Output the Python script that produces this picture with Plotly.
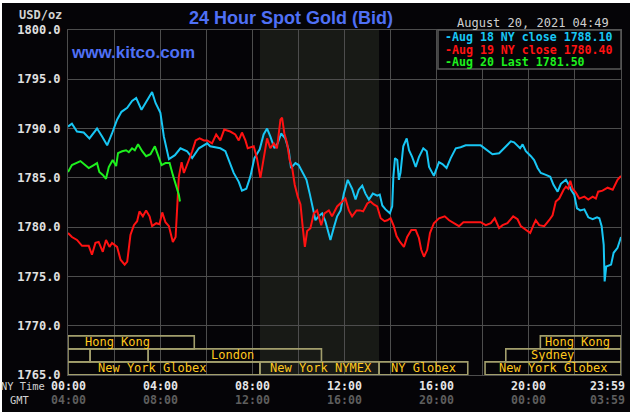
import plotly.graph_objects as go

# ---------------- data ----------------
cyan_h = [0.0,0.17,0.39,0.68,0.93,1.26,1.48,1.70,1.91,2.13,2.32,2.57,2.78,2.96,3.19,3.43,3.65,3.80,4.01,4.16,
          4.38,4.64,4.88,5.17,5.39,5.68,6.04,6.17,6.61,6.83,7.04,7.19,7.41,7.55,7.74,7.91,8.09,8.32,8.49,8.64,
          8.78,8.96,9.10,9.25,9.43,9.58,9.68,9.87,10.01,10.16,10.35,10.49,10.64,10.74,10.88,11.03,11.17,11.29,11.39,11.53,
          11.68,11.83,11.97,12.14,12.33,12.48,12.62,12.77,12.91,13.06,13.23,13.42,13.53,13.64,13.78,13.97,14.07,14.12,14.19,14.29,
          14.36,14.43,14.55,14.70,14.80,14.94,15.09,15.23,15.42,15.57,15.67,15.88,16.10,16.25,16.43,16.61,16.83,17.04,17.26,17.91,
          18.13,18.42,18.71,18.93,19.22,19.36,19.51,19.62,19.73,19.87,20.09,20.23,20.38,20.52,20.74,20.93,21.07,21.25,21.39,21.61,
          21.71,21.83,21.97,22.09,22.23,22.41,22.58,22.77,22.96,23.06,23.16,23.25,23.29,23.36,23.57,23.68,23.85,24.0]
cyan_p = [1790.2,1790.5,1789.7,1789.6,1789.0,1790.0,1789.2,1788.3,1789.5,1790.9,1791.7,1792.1,1792.8,1793.1,1791.9,1792.9,1793.7,1792.6,1791.6,1789.2,
          1786.9,1787.3,1788.0,1787.7,1787.0,1788.0,1788.5,1788.2,1788.0,1787.7,1786.5,1785.5,1784.6,1783.7,1783.9,1785.1,1787.0,1787.9,1789.4,1790.0,
          1789.2,1788.0,1788.5,1789.5,1789.0,1787.8,1786.0,1786.5,1786.3,1785.6,1784.8,1783.4,1781.7,1780.7,1781.1,1781.4,1780.6,1779.4,1778.7,1779.9,
          1781.1,1781.7,1783.4,1784.8,1783.9,1782.8,1783.8,1784.2,1783.4,1782.8,1783.4,1783.2,1783.3,1782.2,1781.8,1781.4,1782.1,1785.1,1787.0,1786.8,
          1784.8,1785.5,1788.2,1789.0,1787.8,1787.1,1786.1,1787.1,1788.0,1787.7,1786.1,1785.2,1786.6,1786.4,1786.0,1787.0,1788.0,1788.1,1788.3,1788.3,
          1787.9,1787.4,1787.5,1788.0,1788.7,1788.6,1788.2,1788.0,1788.4,1787.7,1787.2,1786.8,1786.0,1785.5,1785.3,1785.1,1784.3,1783.6,1784.4,1784.8,
          1784.4,1783.8,1783.3,1781.9,1781.7,1781.8,1781.0,1780.8,1781.0,1780.9,1780.1,1778.2,1774.5,1776.0,1776.2,1777.4,1777.9,1779.0]

red_h = [0.0,0.17,0.39,0.61,0.90,1.04,1.19,1.33,1.51,1.65,1.80,1.91,2.13,2.28,2.46,2.57,2.71,2.86,3.00,3.10,
         3.25,3.39,3.54,3.65,3.83,3.97,4.09,4.23,4.38,4.55,4.67,4.74,4.81,4.93,5.03,5.13,5.25,5.39,5.54,5.71,
         5.90,6.04,6.25,6.43,6.61,6.78,7.04,7.26,7.41,7.55,7.70,7.80,8.06,8.20,8.35,8.49,8.64,8.78,8.93,9.07,
         9.22,9.29,9.39,9.51,9.62,9.73,9.84,9.97,10.09,10.20,10.28,10.38,10.52,10.67,10.81,10.99,11.13,11.32,11.46,11.68,
         11.83,12.04,12.19,12.33,12.52,12.67,12.81,12.99,13.13,13.27,13.42,13.57,13.74,13.86,14.0,14.14,14.26,14.41,14.58,14.72,
         14.90,15.09,15.23,15.33,15.45,15.59,15.71,15.88,16.10,16.35,16.54,16.75,16.97,17.16,17.91,18.13,18.35,18.52,18.71,18.86,
         19.07,19.32,19.51,19.65,19.87,20.06,20.20,20.30,20.45,20.67,20.88,21.03,21.17,21.32,21.51,21.61,21.71,21.80,21.90,22.04,
         22.19,22.41,22.58,22.77,22.91,23.01,23.20,23.42,23.64,23.85,24.0]
red_p = [1779.4,1779.0,1778.7,1778.1,1778.1,1777.2,1778.4,1778.5,1777.5,1778.7,1778.0,1778.4,1778.0,1776.7,1776.2,1776.5,1779.2,1780.2,1780.6,1781.6,
         1781.1,1781.7,1781.1,1780.1,1780.4,1780.3,1781.5,1780.5,1780.1,1778.5,1779.0,1781.7,1785.1,1786.6,1785.5,1786.1,1786.8,1787.7,1788.8,1789.0,
         1788.8,1788.8,1788.5,1789.4,1788.8,1789.9,1789.7,1789.4,1788.8,1789.6,1788.8,1788.0,1788.2,1787.0,1785.0,1786.8,1789.0,1788.0,1788.5,1788.0,
         1790.9,1791.1,1789.5,1788.5,1786.8,1786.0,1784.3,1783.1,1782.3,1779.7,1778.0,1779.6,1779.9,1781.4,1781.7,1780.2,1781.4,1781.7,1781.1,1782.1,
         1782.4,1782.9,1781.7,1781.1,1781.7,1781.7,1781.6,1782.4,1782.6,1782.3,1782.1,1780.9,1780.6,1780.7,1780.9,1780.1,1779.1,1778.5,1778.0,1779.0,
         1779.7,1779.7,1778.9,1777.7,1777.0,1777.7,1779.4,1780.4,1780.9,1781.1,1780.7,1780.4,1780.1,1780.5,1780.5,1780.2,1780.4,1780.9,1779.9,1780.2,
         1780.4,1781.1,1780.8,1780.1,1779.7,1779.4,1780.2,1780.7,1780.2,1780.1,1780.7,1781.2,1782.6,1782.9,1783.8,1784.1,1783.9,1784.7,1783.9,1783.5,
         1782.9,1783.1,1782.8,1783.1,1782.9,1783.6,1783.7,1784.0,1783.8,1784.8,1785.2]

green_h = [0.0,0.17,0.54,0.75,0.90,1.12,1.26,1.36,1.51,1.65,1.77,1.94,2.09,2.17,2.35,2.52,2.64,2.78,2.90,3.04,
           3.22,3.39,3.58,3.77,3.91,4.06,4.23,4.41,4.55,4.70,4.81,4.86]
green_p = [1785.6,1786.3,1786.7,1786.3,1786.0,1786.3,1786.5,1785.6,1785.3,1784.9,1786.1,1786.8,1786.2,1787.5,1787.7,1787.8,1787.6,1788.0,1787.8,1788.4,
           1787.7,1787.2,1787.4,1788.2,1787.2,1786.3,1786.5,1786.5,1785.3,1784.1,1783.3,1782.6]

assert len(cyan_h) == len(cyan_p) and len(red_h) == len(red_p) and len(green_h) == len(green_p)

legend_labels = ["-Aug 18 NY close 1788.10", "-Aug 19 NY close 1780.40", "-Aug 20 Last 1781.50"]

y_ticks = [1765, 1770, 1775, 1780, 1785, 1790, 1795, 1800]
ny_hours = [0, 4, 8, 12, 16, 20, 24]
ny_labels = ["00:00", "04:00", "08:00", "12:00", "16:00", "20:00", "23:59"]
gmt_labels = ["04:00", "08:00", "12:00", "16:00", "20:00", "00:00", "03:59"]

# trading sessions: name, row (1 top .. 3 bottom), start hour, end hour, label hour
sess_names = ["Hong Kong", "", "", "London", "New York Globex", "New York NYMEX", "NY Globex",
              "Hong Kong", "Sydney", "New York Globex"]
sess_rows = [1, 2, 2, 2, 3, 3, 3, 1, 2, 3]
sess_start = [0.0, 0.0, 0.96, 3.48, 0.0, 8.33, 13.5, 20.5, 19.0, 18.1]
sess_end = [5.48, 0.96, 3.48, 11.0, 8.33, 13.5, 17.35, 24.0, 24.0, 24.0]
sess_label_h = [2.13, None, None, 7.13, 3.65, 10.96, 15.43, 22.13, 21.04, 21.04]
nymex_open, nymex_close = 8.33, 13.5

# ---------------- style ----------------
W, H = 633, 417
L, R, T, B = 68, 12, 30, 42
PW, PH = W - L - R, H - T - B
BG = "#050407"
GRID = "#4d4d4d"
MONO = "DejaVu Sans Mono"
CYAN, RED, GREEN = "#18c6f4", "#ff1212", "#1ef01e"
BLUE = "#4f70f5"
GOLD = "#ffc81e"
BOXLINE = "#a29e6c"

def px2x(p):
    return (p - L) / PW

def px2y(p):
    return (H - B - p) / PH

row_top = {1: 1768.97, 2: 1767.65, 3: 1766.33}
row_h = 1.32

fig = go.Figure()
for h, p, c in [(cyan_h, cyan_p, CYAN), (red_h, red_p, RED), (green_h, green_p, GREEN)]:
    fig.add_trace(go.Scatter(x=h, y=p, mode="lines", line=dict(color=c, width=2),
                             hoverinfo="skip", showlegend=False))

shapes = []
# black frame on white page
shapes.append(dict(type="rect", xref="paper", yref="paper", x0=px2x(2), x1=px2x(630),
                   y0=px2y(412), y1=px2y(3), fillcolor=BG, line=dict(width=0), layer="below"))
# NYMEX shaded period
shapes.append(dict(type="rect", xref="x", yref="y", x0=nymex_open, x1=nymex_close,
                   y0=1765, y1=1800, fillcolor="#181a16", line=dict(width=0), layer="below"))
annotations = []
for name, row, s, e, lh in zip(sess_names, sess_rows, sess_start, sess_end, sess_label_h):
    top = row_top[row]
    shapes.append(dict(type="rect", xref="x", yref="y", x0=s, x1=e, y0=top - row_h, y1=top,
                       line=dict(color=BOXLINE, width=1.6), fillcolor="rgba(0,0,0,0)", layer="above"))
    if name:
        annotations.append(dict(x=lh, y=top - row_h / 2, xref="x", yref="y", text=name,
                                showarrow=False, font=dict(family=MONO, size=12, color=GOLD),
                                xanchor="center", yanchor="middle", borderpad=0))

# legend box
shapes.append(dict(type="rect", xref="paper", yref="paper", x0=px2x(438), x1=1.0,
                   y0=px2y(69), y1=1.0, fillcolor=BG, line=dict(color="#5a5a5a", width=1.5),
                   layer="above"))
for i, (lab, c) in enumerate(zip(legend_labels, [CYAN, RED, GREEN])):
    annotations.append(dict(x=px2x(444), y=px2y(37 + 12.6 * i), xref="paper", yref="paper",
                            text=lab, showarrow=False, xanchor="left", yanchor="middle",
                            borderpad=0,
                            font=dict(family=MONO, size=11.6, color=c, weight="bold")))

# x labels
for hh, a, g in zip(ny_hours, ny_labels, gmt_labels):
    xa = "right" if hh == 24 else "center"
    xs = 5 if hh == 24 else 0
    annotations.append(dict(x=hh, y=px2y(386), xref="x", yref="paper", text=a, showarrow=False,
                            xanchor=xa, xshift=xs, yanchor="middle", borderpad=0,
                            font=dict(family=MONO, size=11.6, color="#e6e6e6", weight="bold")))
    annotations.append(dict(x=hh, y=px2y(400), xref="x", yref="paper", text=g, showarrow=False,
                            xanchor=xa, xshift=xs, yanchor="middle", borderpad=0,
                            font=dict(family=MONO, size=11.6, color="#5e5e5e", weight="bold")))
annotations.append(dict(x=px2x(46), y=px2y(386), xref="paper", yref="paper", text="NY Time",
                        showarrow=False, xanchor="right", yanchor="middle", borderpad=0,
                        font=dict(family=MONO, size=10.4, color="#d2d2d2")))
annotations.append(dict(x=px2x(31), y=px2y(400), xref="paper", yref="paper", text="GMT",
                        showarrow=False, xanchor="right", yanchor="middle", borderpad=0,
                        font=dict(family=MONO, size=10.4, color="#d2d2d2")))
annotations.append(dict(x=px2x(64), y=px2y(15), xref="paper", yref="paper", text="USD/oz",
                        showarrow=False, xanchor="right", yanchor="middle",
                        font=dict(family=MONO, size=12, color="#d2d2d2", weight="bold")))
annotations.append(dict(x=px2x(611), y=px2y(23), xref="paper", yref="paper",
                        text="August 20, 2021 04:49", showarrow=False, xanchor="right",
                        yanchor="middle", font=dict(family=MONO, size=12, color="#cfcfcf")))
annotations.append(dict(x=px2x(291), y=px2y(18), xref="paper", yref="paper",
                        text="24 Hour Spot Gold (Bid)", showarrow=False, xanchor="center",
                        yanchor="middle",
                        font=dict(family="Liberation Sans", size=18, color=BLUE, weight="bold")))
annotations.append(dict(x=px2x(69), y=px2y(52), xref="paper", yref="paper",
                        text="www.kitco.com", showarrow=False, xanchor="left",
                        yanchor="middle",
                        font=dict(family="Liberation Sans", size=17, color=BLUE, weight="bold")))

fig.update_layout(
    width=W, height=H, margin=dict(l=L, r=R, t=T, b=B, pad=0),
    paper_bgcolor="white", plot_bgcolor=BG,
    shapes=shapes, annotations=annotations, showlegend=False,
    xaxis=dict(range=[0, 24], dtick=2, tick0=0, showgrid=True, gridcolor=GRID, gridwidth=1,
               zeroline=False, showticklabels=False, showline=True, linecolor=GRID, mirror=True,
               fixedrange=True),
    yaxis=dict(range=[1765, 1800], tickvals=y_ticks, tickformat=".1f", showgrid=True,
               gridcolor=GRID, gridwidth=1, zeroline=False, showline=True, linecolor=GRID,
               mirror=True, ticks="", ticklabelstandoff=4,
               tickfont=dict(family=MONO, size=12, color="#e0e0e0", weight="bold"),
               fixedrange=True),
)
fig.write_html("out.html")
